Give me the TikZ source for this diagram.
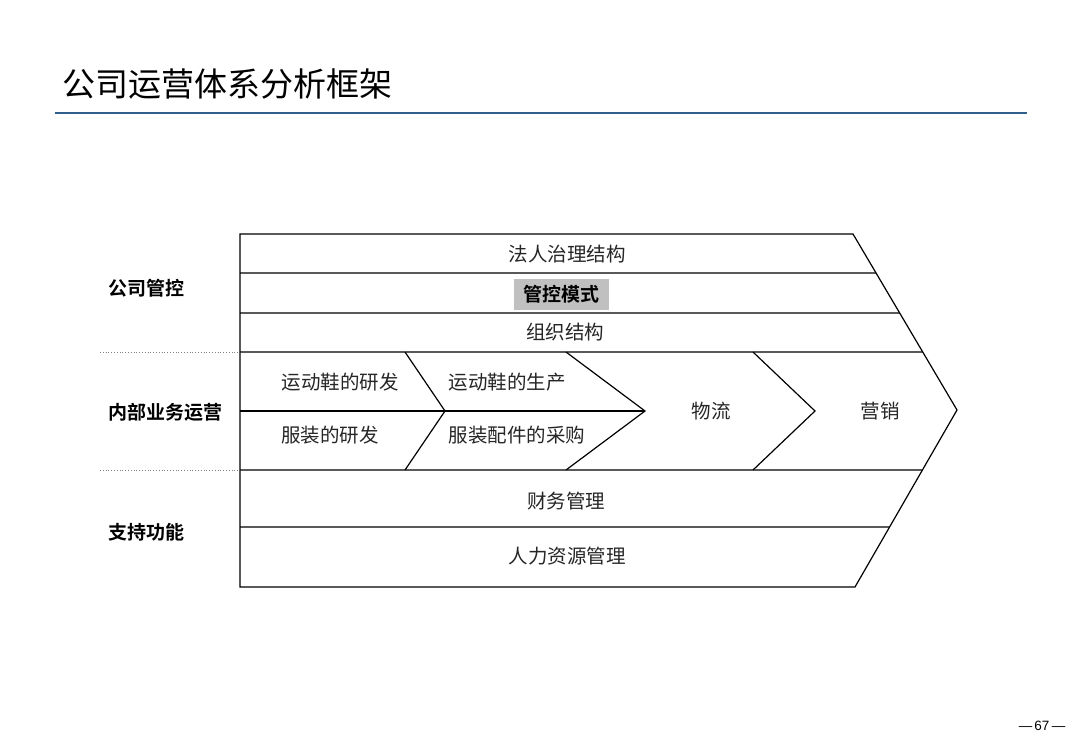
\documentclass[tikz,border=0pt]{standalone}
\usepackage{fontspec}
\usetikzlibrary{calc}
\setmainfont{Liberation Sans}
\newfontfamily\cjk{Noto Sans CJK SC}
\newfontfamily\cjkb{Noto Sans CJK SC Bold}
\definecolor{rulecol}{HTML}{2F5F8A}
\definecolor{boxgray}{HTML}{C0C0C0}
\begin{document}
\begin{tikzpicture}[x=1pt,y=-1pt,
  frame/.style={draw=black,line width=1.2pt,line join=miter},
  body/.style={font=\cjk\fontsize{19.5}{22}\selectfont,inner sep=0pt,text=black!85},
  side/.style={font=\cjkb\fontsize{19}{22}\selectfont,inner sep=0pt,anchor=west},
  sep/.style={draw=gray,line width=0.8pt,dotted}]
\useasboundingbox (0,0) rectangle (1080,748);
\fill[white] (0,0) rectangle (1080,748);
% title
\node[font=\cjk\fontsize{33}{36}\selectfont,anchor=west,inner sep=0pt] (title) at (62,84) {公司运营体系分析框架};
\coordinate (r1) at (55,113);
\coordinate (r2) at (1027,113);
\draw[rulecol,line width=1.3pt] (r1) -- (r2);
% outer shape
\coordinate (tl) at (240,234);
\coordinate (tr) at (853,234);
\coordinate (tip) at (957,410);
\coordinate (br) at (855,587);
\coordinate (bl) at (240,587);
\draw[frame] (tl) -- (tr) -- (tip) -- (br) -- (bl) -- cycle;
% horizontal rows
\foreach \y/\n in {273/a,313/b,352/c}{
  \coordinate (L\n) at (240,\y);
  \coordinate (R\n) at ($(tr)!{(\y-234)/176}!(tip)$);
  \draw[frame] (L\n) -- (R\n);
}
\foreach \y/\n in {470/d,527/e}{
  \coordinate (L\n) at (240,\y);
  \coordinate (R\n) at ($(tip)!{(\y-410)/177}!(br)$);
  \draw[frame] (L\n) -- (R\n);
}
% middle line and chevrons
\coordinate (m0) at (240,411);
\coordinate (c1t) at (405,352); \coordinate (c1p) at (445,411); \coordinate (c1b) at (405,470);
\coordinate (c2t) at (566,352); \coordinate (c2p) at (645,411); \coordinate (c2b) at (566,470);
\coordinate (c3t) at (753,352); \coordinate (c3p) at (815,411); \coordinate (c3b) at (753,470);
\draw[frame] (m0) -- (c2p);
\draw[frame] (c1t) -- (c1p) -- (c1b);
\draw[frame] (c2t) -- (c2p) -- (c2b);
\draw[frame] (c3t) -- (c3p) -- (c3b);
% dotted separators
\coordinate (s1) at (100,352);
\coordinate (s2) at (100,470);
\draw[sep] (s1) -- (Lc);
\draw[sep] (s2) -- (Ld);
% side labels
\node[side] (g1) at (108,288) {公司管控};
\node[side] (g2) at (108,412) {内部业务运营};
\node[side] (g3) at (108,532) {支持功能};
% row texts
\node[body] (t1) at (567,254) {法人治理结构};
\node[fill=boxgray,font=\cjkb\fontsize{19}{22}\selectfont,inner xsep=6pt,minimum height=31pt,minimum width=95pt,inner ysep=0pt] (t2) at (561,294) {管控模式};
\node[body] (t3) at (565,332) {组织结构};
\node[body] (t4) at (340,382) {运动鞋的研发};
\node[body] (t5) at (330,435) {服装的研发};
\node[body] (t6) at (507,382) {运动鞋的生产};
\node[body] (t7) at (517,435) {服装配件的采购};
\node[body] (t8) at (711,411) {物流};
\node[body] (t9) at (880,411) {营销};
\node[body] (t10) at (566,501) {财务管理};
\node[body] (t11) at (567,556) {人力资源管理};
% page number
\node[font=\fontsize{13.5}{15}\selectfont,inner sep=0pt] (pg) at (1042,726) {—\,67\,—};
\end{tikzpicture}
\end{document}
